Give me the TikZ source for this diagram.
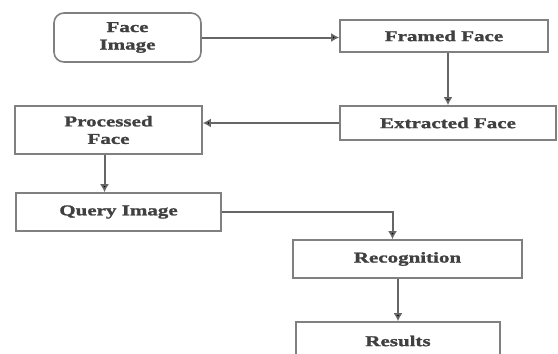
\documentclass[tikz,border=0pt]{standalone}
\usepackage{fontspec}
\newfontfamily\hopfont{Liberation Serif}[FakeStretch=1.4, FakeBold=1.5]
\usetikzlibrary{arrows.meta}
\begin{document}
\begin{tikzpicture}[x=1pt, y=-1pt,
		font=\hopfont\bfseries\fontsize{15}{17.5}\selectfont,
		hop/.style={draw=black!50, line width=1.6pt, text=black!75, align=center, inner sep=0pt},
		noi/.style={draw=black!60, line width=2pt, -{Latex[length=8pt,width=9pt,fill=black]}}]
	% 1. Khung hình
	\useasboundingbox (0,0) rectangle (558,354);
	\clip (0,0) rectangle (558,354);
	% 2. Các khối
	\node[hop, rounded corners=10pt, minimum width=147pt, minimum height=49pt] (fi) at (127.5,37.5) {Face\\Image};
	\node[hop, minimum width=208pt, minimum height=32pt] (ff) at (444,36) {Framed Face};
	\node[hop, minimum width=216pt, minimum height=34pt] (ef) at (448,123) {Extracted Face};
	\node[hop, minimum width=187pt, minimum height=48pt] (pf) at (108.5,130) {Processed\\Face};
	\node[hop, minimum width=205pt, minimum height=38pt] (qi) at (118.5,212) {Query Image};
	\node[hop, minimum width=229pt, minimum height=38pt] (rec) at (407.5,259) {Recognition};
	\node[hop, minimum width=204pt, minimum height=38pt] (res) at (398,341) {Results};
	% 3. Các mũi tên
	\draw[noi] (fi.east) -- (fi.east -| ff.west);
	\draw[noi] (ef.north |- ff.south) -- (ef.north);
	\draw[noi] (ef.west) -- (ef.west -| pf.east);
	\draw[noi] ([xshift=-4pt]pf.south) -- ([xshift=-4pt]pf.south |- qi.north);
	\draw[noi] (qi.east) -| ([xshift=-15pt]rec.north);
	\draw[noi] (res.north |- rec.south) -- (res.north);
\end{tikzpicture}
\end{document}
